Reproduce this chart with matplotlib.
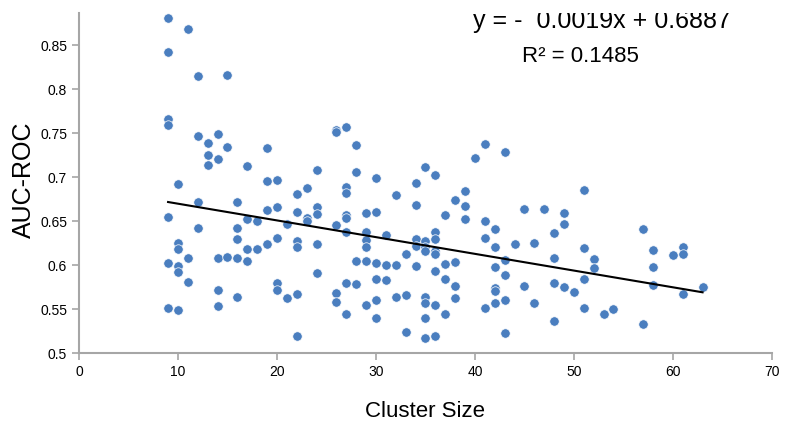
import numpy as np
import matplotlib
matplotlib.use("Agg")
import matplotlib.pyplot as plt

# cluster sizes and the AUC-ROC values seen at each size
sizes = [9, 10, 11, 12, 13, 14, 15, 16, 17, 18, 19, 20, 21, 22, 23, 24,
         26, 27, 28, 29, 30, 31, 32, 33, 34, 35, 36, 37, 38, 39, 40, 41,
         42, 43, 44, 45, 46, 47, 48, 49, 50, 51, 52, 53, 54, 57, 58, 60,
         61, 63]
auc_by_size = [
    [0.881, 0.842, 0.766, 0.759, 0.6545, 0.602, 0.551],
    [0.692, 0.625, 0.618, 0.5985, 0.592, 0.549],
    [0.868, 0.608, 0.581],
    [0.815, 0.747, 0.672, 0.6417],
    [0.739, 0.725, 0.714],
    [0.749, 0.721, 0.608, 0.5716, 0.553],
    [0.816, 0.734, 0.609],
    [0.672, 0.6424, 0.630, 0.608, 0.564],
    [0.7125, 0.652, 0.618, 0.605],
    [0.6497, 0.618],
    [0.733, 0.695, 0.6625, 0.624],
    [0.697, 0.666, 0.631, 0.580, 0.5716],
    [0.6466, 0.562],
    [0.681, 0.660, 0.6276, 0.620, 0.567, 0.5197],
    [0.6875, 0.653, 0.650],
    [0.708, 0.666, 0.6576, 0.624, 0.5905],
    [0.754, 0.751, 0.646, 0.568, 0.558],
    [0.757, 0.689, 0.6815, 0.657, 0.654, 0.637, 0.580, 0.544],
    [0.736, 0.7057, 0.6045, 0.578],
    [0.6587, 0.638, 0.629, 0.620, 0.605, 0.555],
    [0.699, 0.6606, 0.6026, 0.584, 0.560, 0.540],
    [0.634, 0.600, 0.583],
    [0.680, 0.600, 0.5636],
    [0.613, 0.5655, 0.524],
    [0.6935, 0.6685, 0.6295, 0.6216, 0.599],
    [0.711, 0.627, 0.620, 0.616, 0.564, 0.557, 0.540, 0.517],
    [0.702, 0.638, 0.6295, 0.616, 0.612, 0.593, 0.555, 0.519],
    [0.6564, 0.601, 0.584, 0.544],
    [0.6735, 0.603, 0.576, 0.562],
    [0.6837, 0.6667, 0.6526],
    [0.722],
    [0.738, 0.650, 0.6307, 0.551],
    [0.6405, 0.620, 0.598, 0.574, 0.5705, 0.557],
    [0.728, 0.6057, 0.589, 0.560, 0.523],
    [0.6239],
    [0.6633, 0.576],
    [0.6247, 0.557],
    [0.6633],
    [0.636, 0.608, 0.580, 0.536],
    [0.6595, 0.6466, 0.5753],
    [0.569],
    [0.6856, 0.619, 0.5845, 0.551],
    [0.6065, 0.597],
    [0.544],
    [0.550],
    [0.6405, 0.533],
    [0.6174, 0.598, 0.577],
    [0.611],
    [0.6205, 0.613, 0.567],
    [0.5753],
]

# trendline from the chart's equation
slope = -0.0019
intercept = 0.6887
r_squared = 0.1485

x_ticks = [0, 10, 20, 30, 40, 50, 60, 70]
y_ticks = [0.5, 0.55, 0.6, 0.65, 0.7, 0.75, 0.8, 0.85]
y_tick_labels = ["0.5", "0.55", "0.6", "0.65", "0.7", "0.75", "0.8", "0.85"]

plt.rcParams["font.family"] = ["Liberation Sans", "DejaVu Sans"]

xs = []
ys = []
for s, vals in zip(sizes, auc_by_size):
    for v in vals:
        xs.append(s)
        ys.append(v)

fig = plt.figure(figsize=(7.86, 4.30), dpi=100)
ax = fig.add_axes([0.1005, 0.179, 0.8815, 0.791])

ax.scatter(xs, ys, s=46, color="#4a7ebf", edgecolors="white", linewidths=0.5, zorder=3)

lx = np.array([min(xs), max(xs)])
ax.plot(lx, slope * lx + intercept, color="black", lw=1.5, zorder=4)

ax.set_xlim(0, 70)
ax.set_ylim(0.5, 0.8865)
ax.set_xticks(x_ticks)
ax.set_yticks(y_ticks)
ax.set_yticklabels(y_tick_labels)

for side in ["top", "right"]:
    ax.spines[side].set_visible(False)
for side in ["left", "bottom"]:
    ax.spines[side].set_color("#a6a6a6")
    ax.spines[side].set_linewidth(1.5)
ax.tick_params(colors="#a6a6a6", labelcolor="black", length=5, width=1.2, labelsize=10)

ax.set_xlabel("Cluster Size", fontsize=16, labelpad=16)
fig.text(0.031, 0.581, "AUC-ROC", rotation=90, fontsize=18, ha="center", va="center")

# equation sits partly above the plot area and gets cut off at the top
ax.text(0.569, 0.955, "y = -  %.4fx + %.4f" % (-slope, intercept), transform=ax.transAxes,
        fontsize=18, ha="left", va="baseline", clip_on=True)
ax.text(0.6395, 0.855, "R² = %.4f" % r_squared, transform=ax.transAxes,
        fontsize=16, ha="left", va="baseline")

fig.savefig("out.png", dpi=100)
